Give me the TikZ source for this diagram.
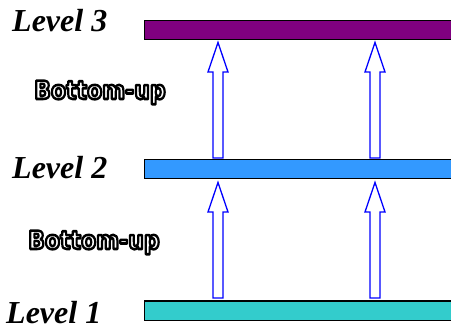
\documentclass[tikz,border=0pt]{standalone}
\usepackage{fontspec}
\setmainfont{Liberation Serif}
\newfontfamily\bufont{DejaVu Sans}
\definecolor{lvthree}{HTML}{800080}
\definecolor{lvtwo}{HTML}{3399FF}
\definecolor{lvone}{HTML}{33CCCC}
\definecolor{arrblue}{HTML}{0000FF}
\tikzset{
  bar/.style={draw=black, line width=1.3pt},
  levellabel/.style={anchor=base west, inner sep=0pt, font=\fontsize{32}{32}\selectfont\bfseries\itshape},
  bulabel/.style={anchor=base west, inner sep=0pt, font=\fontsize{22}{22}\selectfont\bufont\bfseries},
  blockarrow/.style={draw=arrblue, fill=white, line width=1.3pt, line join=miter},
}
\newcommand\outlinetext[1]{\scalebox{1}[1.15]{\textcolor{white}{\special{pdf:literal direct 2 Tr 2.2 w 1 j 0 G}#1\special{pdf:literal direct 0 Tr 1 w}}}}
\newcommand\myblockarrow[4]{% center x, tip y, head base y, bottom y
  \draw[blockarrow] (#1,#2) -- (#1+10,#3) -- (#1+5,#3) -- (#1+5,#4) -- (#1-5,#4) -- (#1-5,#3) -- (#1-10,#3) -- cycle;}
\begin{document}
\begin{tikzpicture}[x=1pt,y=-1pt]
\useasboundingbox (0,0) rectangle (451,331);
\clip (0,0) rectangle (451,331);
% bars
\path[bar, fill=lvthree] (144.5,20.5) rectangle (460,39.5);
\path[bar, fill=lvtwo] (144.5,159.5) rectangle (460,178.5);
\path[bar, fill=lvone] (144.5,301) rectangle (460,320.5);
% arrows
\myblockarrow{218}{42.5}{72}{158}
\myblockarrow{375}{42.5}{72}{158}
\myblockarrow{218}{182.5}{212}{298}
\myblockarrow{375}{182.5}{212}{298}
% labels
\node[levellabel] (l3) at (12,32) {Level 3};
\node[levellabel] (l2) at (12,179) {Level 2};
\node[levellabel] (l1) at (6,324) {Level 1};
\node[bulabel] (bu1) at (34,99) {\outlinetext{Bottom-up}};
\node[bulabel] (bu2) at (28,249) {\outlinetext{Bottom-up}};
\end{tikzpicture}
\end{document}
